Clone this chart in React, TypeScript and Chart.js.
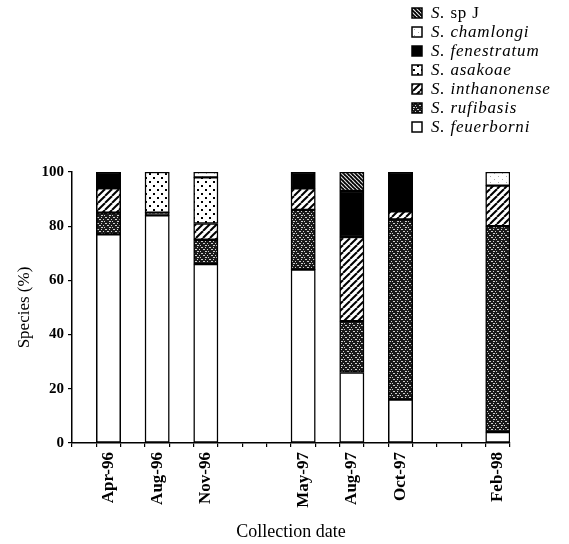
import React, { useEffect, useRef } from "react";
import { Chart, registerables } from "chart.js";

Chart.register(...registerables);

// Collection dates (bars) and the x-axis category slots (blank slots are gaps)
const dates = ["Apr-96", "Aug-96", "Nov-96", "May-97", "Aug-97", "Oct-97", "Feb-98"];
const categories = ["", "Apr-96", "", "Aug-96", "", "Nov-96", "", "", "", "May-97", "", "Aug-97", "", "Oct-97", "", "", "", "Feb-98"];

// Percent of each species per collection date (segment heights, bottom to top)
const feuerborni = [77, 84, 66, 64, 26, 16, 4];
const rufibasis = [8, 1, 9, 22, 19, 66.5, 76];
const inthanonense = [9, 0, 6, 8, 31, 3, 15];
const asakoae = [0, 15, 17, 0, 0, 0, 0];
const fenestratum = [6, 0, 0, 6, 17, 14.5, 0];
const chamlongi = [0, 0, 2, 0, 0, 0, 5];
const spJ = [0, 0, 0, 0, 7, 0, 0];

const yTicks = [0, 20, 40, 60, 80, 100];

function tile(w: number, h: number, draw: (c: CanvasRenderingContext2D) => void): CanvasPattern | string {
  const cv = document.createElement("canvas");
  cv.width = w;
  cv.height = h;
  const c = cv.getContext("2d");
  if (!c) return "#fff";
  draw(c);
  const p = c.createPattern(cv, "repeat");
  return p || "#fff";
}

function makePatterns() {
  const white = "#ffffff";
  const stipple = tile(8, 6, (c) => {
    c.fillStyle = "#1a1a1a";
    c.fillRect(0, 0, 8, 6);
    c.fillStyle = "#cfcfcf";
    c.fillRect(1, 1, 2, 1);
    c.fillRect(5, 1, 1, 1);
    c.fillRect(3, 3, 2, 1);
    c.fillRect(7, 3, 1, 1);
    c.fillRect(0, 5, 1, 1);
    c.fillRect(5, 5, 2, 1);
  });
  const hatch = tile(7, 7, (c) => {
    c.fillStyle = "#fff";
    c.fillRect(0, 0, 7, 7);
    c.strokeStyle = "#000";
    c.lineWidth = 2;
    for (const x of [0, 7, 14]) {
      c.beginPath();
      c.moveTo(x - 7, 7);
      c.lineTo(x, 0);
      c.stroke();
    }
  });
  const dots = tile(8, 8, (c) => {
    c.fillStyle = "#fff";
    c.fillRect(0, 0, 8, 8);
    c.fillStyle = "#000";
    c.fillRect(1, 1, 2, 2);
    c.fillRect(5, 5, 2, 2);
  });
  const lightDots = tile(8, 6, (c) => {
    c.fillStyle = "#fff";
    c.fillRect(0, 0, 8, 6);
    c.fillStyle = "#aaa";
    c.fillRect(2, 2, 1, 1);
    c.fillRect(6, 5, 1, 1);
  });
  const backHatch = tile(4, 4, (c) => {
    c.fillStyle = "#000";
    c.fillRect(0, 0, 4, 4);
    c.strokeStyle = "#e0e0e0";
    c.lineWidth = 1.2;
    for (const x of [-4, 0, 4]) {
      c.beginPath();
      c.moveTo(x, 0);
      c.lineTo(x + 4, 4);
      c.stroke();
    }
  });
  return { white, stipple, hatch, dots, lightDots, backHatch, black: "#000000" };
}

function toSlots(values: number[]) {
  return categories.map((cat) => {
    const i = dates.indexOf(cat);
    if (i < 0) return null;
    const v = values[i];
    return v > 0 ? v : null;
  });
}

const legendPlugin = {
  id: "speciesLegend",
  afterDraw(chart: any) {
    const ctx: CanvasRenderingContext2D = chart.ctx;
    const ds = chart.data.datasets.slice().reverse();
    const x0 = 412;
    const y0 = 13;
    const step = 19;
    ctx.save();
    ds.forEach((d: any, i: number) => {
      const cy = y0 + i * step;
      ctx.fillStyle = d.backgroundColor;
      ctx.fillRect(x0, cy - 5, 10, 10);
      ctx.strokeStyle = "#000";
      ctx.lineWidth = 1.5;
      ctx.strokeRect(x0, cy - 5, 10, 10);
      ctx.fillStyle = "#000";
      ctx.textBaseline = "middle";
      ctx.textAlign = "left";
      (ctx as any).letterSpacing = "0.8px";
      const label: string = d.label;
      const tx = x0 + 19;
      if (label === "S. sp J") {
        ctx.font = "italic 17px 'Liberation Serif', serif";
        ctx.fillText("S.", tx, cy + 1);
        const w = ctx.measureText("S. ").width;
        ctx.font = "17px 'Liberation Serif', serif";
        ctx.fillText("sp J", tx + w, cy + 1);
      } else {
        ctx.font = "italic 17px 'Liberation Serif', serif";
        ctx.fillText(label, tx, cy + 1);
      }
      (ctx as any).letterSpacing = "0px";
    });
    ctx.restore();
  },
};

export default function App() {
  const ref = useRef<HTMLCanvasElement | null>(null);

  useEffect(() => {
    if (!ref.current) return;
    const p = makePatterns();
    const mk = (label: string, values: number[], fill: any) => ({
      label,
      data: toSlots(values),
      backgroundColor: fill,
      borderColor: "#000",
      borderWidth: 1.5,
      borderSkipped: false,
      categoryPercentage: 1,
      barPercentage: 1,
    });
    const chart = new Chart(ref.current, {
      type: "bar",
      data: {
        labels: categories,
        datasets: [
          mk("S. feuerborni", feuerborni, p.white),
          mk("S. rufibasis", rufibasis, p.stipple),
          mk("S. inthanonense", inthanonense, p.hatch),
          mk("S. asakoae", asakoae, p.dots),
          mk("S. fenestratum", fenestratum, p.black),
          mk("S. chamlongi", chamlongi, p.lightDots),
          mk("S. sp J", spJ, p.backHatch),
        ] as any,
      },
      options: {
        animation: false,
        responsive: true,
        maintainAspectRatio: false,
        layout: { padding: { top: 172, right: 59, left: 0, bottom: 0 } },
        plugins: {
          legend: { display: false },
          tooltip: { enabled: false },
        },
        scales: {
          x: {
            stacked: true,
            offset: true,
            afterFit: (s: any) => {
              s.height = 101;
            },
            grid: { drawOnChartArea: false, color: "#000", tickLength: 4, lineWidth: 1.2 },
            border: { color: "#000", width: 1.5 },
            ticks: {
              autoSkip: false,
              maxRotation: 90,
              minRotation: 90,
              color: "#000",
              padding: 5,
              font: { family: "'Liberation Serif', serif", size: 17, weight: "bold" },
            },
            title: {
              display: true,
              text: "Collection date",
              color: "#000",
              font: { family: "'Liberation Serif', serif", size: 18 },
              padding: { top: 0, bottom: 1 },
            },
          },
          y: {
            stacked: true,
            min: 0,
            max: 100,
            afterFit: (s: any) => {
              s.width = 72;
            },
            afterBuildTicks: (s: any) => {
              s.ticks = yTicks.map((v) => ({ value: v }));
            },
            grid: { drawOnChartArea: false, color: "#000", tickLength: 4, lineWidth: 1.2 },
            border: { color: "#000", width: 1.5 },
            ticks: {
              color: "#000",
              padding: 4,
              font: { family: "'Liberation Serif', serif", size: 15, weight: "bold" },
            },
            title: {
              display: true,
              text: "Species (%)",
              color: "#000",
              font: { family: "'Liberation Serif', serif", size: 17 },
              padding: { top: 14, bottom: 0 },
            },
          },
        },
      },
      plugins: [legendPlugin],
    });
    return () => chart.destroy();
  }, []);

  return (
    <div style={{ position: "fixed", left: 0, top: 0, width: 569, height: 544, background: "#fff" }}>
      <canvas ref={ref} />
    </div>
  );
}
